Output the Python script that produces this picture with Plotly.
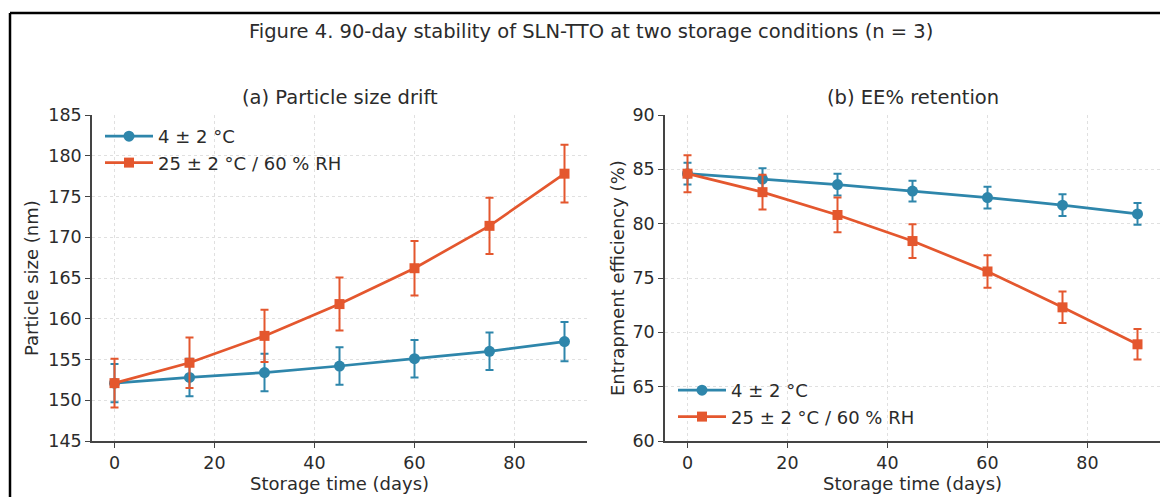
import plotly.graph_objects as go

# ---- data ----
days = [0, 15, 30, 45, 60, 75, 90]

size_4c = [152.1, 152.8, 153.4, 154.2, 155.1, 156.0, 157.2]
size_4c_sd = [2.35, 2.3, 2.3, 2.3, 2.3, 2.3, 2.4]
size_25c = [152.1, 154.6, 157.9, 161.8, 166.2, 171.4, 177.8]
size_25c_sd = [3.0, 3.1, 3.2, 3.25, 3.35, 3.45, 3.55]

ee_4c = [84.6, 84.1, 83.6, 83.0, 82.4, 81.7, 80.9]
ee_4c_sd = [1.0, 1.0, 1.0, 0.95, 1.0, 1.0, 1.0]
ee_25c = [84.6, 82.9, 80.8, 78.4, 75.6, 72.3, 68.9]
ee_25c_sd = [1.7, 1.6, 1.6, 1.55, 1.5, 1.45, 1.4]

series_names = ["4 ± 2 °C", "25 ± 2 °C / 60 % RH"]
size_ticks = [145, 150, 155, 160, 165, 170, 175, 180, 185]
ee_ticks = [60, 65, 70, 75, 80, 85, 90]
x_ticks = [0, 20, 40, 60, 80]

BLUE = "#2E86AB"
ORANGE = "#E4572E"
FONT = "DejaVu Sans"
TXT = "#2b2b2b"
AX = "#444444"

W, H = 1160, 497

def px(x):
    return x / W

def py(y):
    return 1 - y / H

fig = go.Figure()

def add(x, y, sd, name, color, symbol, size, xa, ya, legend):
    fig.add_trace(go.Scatter(
        x=x, y=y, name=name, mode="lines+markers",
        line=dict(color=color, width=2.7),
        marker=dict(color=color, symbol=symbol, size=size),
        error_y=dict(type="data", array=sd, visible=True, color=color,
                     thickness=2, width=4),
        xaxis=xa, yaxis=ya, legend=legend,
    ))

add(days, size_4c, size_4c_sd, series_names[0], BLUE, "circle", 11, "x", "y", "legend")
add(days, size_25c, size_25c_sd, series_names[1], ORANGE, "square", 10, "x", "y", "legend")
add(days, ee_4c, ee_4c_sd, series_names[0], BLUE, "circle", 11, "x2", "y2", "legend2")
add(days, ee_25c, ee_25c_sd, series_names[1], ORANGE, "square", 10, "x2", "y2", "legend2")

axis_common = dict(
    showline=True, linecolor=AX, linewidth=1.5,
    ticks="outside", ticklen=5, tickwidth=1.3, tickcolor=AX,
    tickfont=dict(family=FONT, size=17.5, color=TXT),
    showgrid=True, gridcolor="#e0e0e0", griddash="dot", gridwidth=1,
    zeroline=False, mirror=False,
)

fig.update_layout(
    width=W, height=H, autosize=False,
    margin=dict(l=0, r=0, t=0, b=0, pad=0, autoexpand=False),
    paper_bgcolor="white", plot_bgcolor="white",
    showlegend=True,
    xaxis=dict(domain=[px(92), px(587)], range=[-4.5, 94.5], tickvals=x_ticks,
               anchor="y", **axis_common),
    yaxis=dict(domain=[py(441), py(115)], range=[145, 185], tickvals=size_ticks,
               anchor="x", **axis_common),
    xaxis2=dict(domain=[px(665), 1.0], range=[-4.5, 94.5], tickvals=x_ticks,
                anchor="y2", **axis_common),
    yaxis2=dict(domain=[py(441), py(115)], range=[60, 90], tickvals=ee_ticks,
                anchor="x2", **axis_common),
    legend=dict(x=px(100), y=py(118), xanchor="left", yanchor="top",
                bgcolor="rgba(255,255,255,0)", font=dict(family=FONT, size=18, color=TXT),
                itemwidth=48, tracegroupgap=0),
    legend2=dict(x=px(673), y=py(372), xanchor="left", yanchor="top",
                 bgcolor="rgba(255,255,255,0)", font=dict(family=FONT, size=18, color=TXT),
                 itemwidth=48, tracegroupgap=0),
)

ann = [
    dict(text="Figure 4. 90-day stability of SLN-TTO at two storage conditions (n = 3)",
         x=px(591), y=py(32), size=19.5),
    dict(text="(a) Particle size drift", x=px(339.5), y=py(98), size=19.5),
    dict(text="(b) EE% retention", x=px(912.5), y=py(98), size=19.5),
    dict(text="Storage time (days)", x=px(339.5), y=py(483), size=18),
    dict(text="Storage time (days)", x=px(912.5), y=py(483), size=18),
]
for a in ann:
    fig.add_annotation(text=a["text"], x=a["x"], y=a["y"], xref="paper", yref="paper",
                       xanchor="center", yanchor="middle", showarrow=False,
                       font=dict(family=FONT, size=a["size"], color=TXT))

for text, x in [("Particle size (nm)", 31), ("Entrapment efficiency (%)", 617)]:
    fig.add_annotation(text=text, x=px(x), y=py(278), xref="paper", yref="paper",
                       xanchor="center", yanchor="middle", showarrow=False, textangle=-90,
                       font=dict(family=FONT, size=18, color=TXT))

# figure frame (top-left corner visible in the crop)
fig.add_shape(type="line", xref="paper", yref="paper", x0=px(10), x1=1.0, y0=py(13), y1=py(13),
              line=dict(color="black", width=2.5))
fig.add_shape(type="line", xref="paper", yref="paper", x0=px(10), x1=px(10), y0=0.0, y1=py(13),
              line=dict(color="black", width=2.5))

fig.write_html("out.html")
